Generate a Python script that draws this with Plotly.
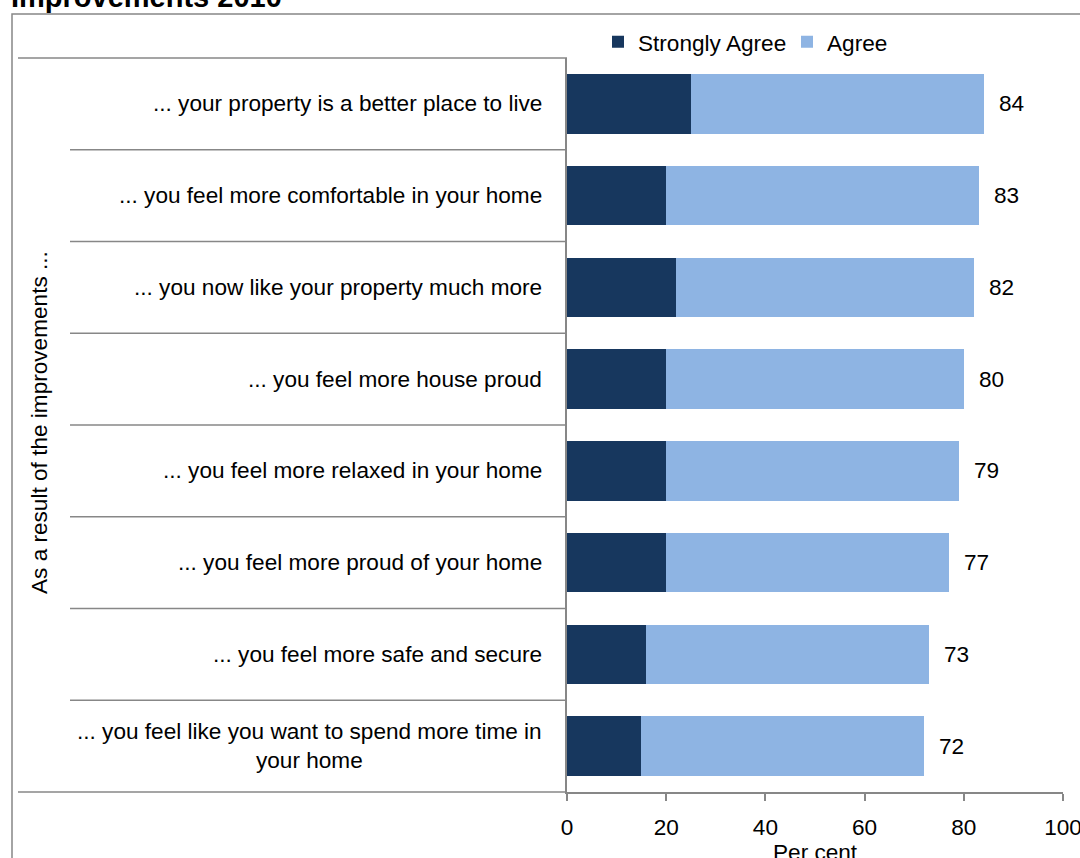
import plotly.graph_objects as go

# Survey statements (top to bottom)
statements = [
    "... your property is a better place to live",
    "... you feel more comfortable in your home",
    "... you now like your property much more",
    "... you feel more house proud",
    "... you feel more relaxed in your home",
    "... you feel more proud of your home",
    "... you feel more safe and secure",
    "... you feel like you want to spend more time in<br>your home",
]
strongly_agree = [25, 20, 22, 20, 20, 20, 16, 15]
total_agree = [84, 83, 82, 80, 79, 77, 73, 72]
agree = [t - s for t, s in zip(total_agree, strongly_agree)]

x_ticks = [0, 20, 40, 60, 80, 100]
x_title = "Per cent"
y_title = "As a result of the improvements ..."
chart_title = "Improvements 2010"

DARK = "#17375E"
LIGHT = "#8EB4E3"
GREY = "#878787"
FONT = "Liberation Sans, Arial, sans-serif"
FS = 22.6

W, H = 1080, 858
L, R, T, B = 567, 17, 58, 66
plot_w = W - L - R
plot_h = H - T - B


def px_x(px):
    return (px - L) / plot_w


def px_y(py):
    return (H - B - py) / plot_h


cats = list(range(len(statements)))

fig = go.Figure()
fig.add_trace(go.Bar(
    y=cats, x=strongly_agree, orientation="h", name="Strongly Agree",
    marker=dict(color=DARK, line=dict(width=0)),
))
fig.add_trace(go.Bar(
    y=cats, x=agree, orientation="h", name="Agree",
    marker=dict(color=LIGHT, line=dict(width=0)),
))

annotations = []
# statement labels, centred lines, right-aligned to the axis
for i, s in enumerate(statements):
    annotations.append(dict(
        x=px_x(544), xref="paper", xanchor="right",
        y=i, yref="y", yanchor="middle",
        text=s, showarrow=False, align="center",
        font=dict(family=FONT, size=FS, color="#000000"),
    ))
# total labels to the right of each bar
for i, t in enumerate(total_agree):
    annotations.append(dict(
        x=t, xref="x", xanchor="left", xshift=13,
        y=i, yref="y", yanchor="middle",
        text=str(t), showarrow=False,
        font=dict(family=FONT, size=FS, color="#000000"),
    ))
annotations.append(dict(
    x=px_x(40), xref="paper", xanchor="center",
    y=px_y(423), yref="paper", yanchor="middle",
    text=y_title, textangle=-90, showarrow=False,
    font=dict(family=FONT, size=FS, color="#000000"),
))
annotations.append(dict(
    x=px_x(815), xref="paper", xanchor="center",
    y=px_y(852), yref="paper", yanchor="middle",
    text=x_title, showarrow=False,
    font=dict(family=FONT, size=FS, color="#000000"),
))
annotations.append(dict(
    x=px_x(9), xref="paper", xanchor="left",
    y=px_y(15), yref="paper", yanchor="bottom",
    text="<b>" + chart_title + "</b>", showarrow=False,
    font=dict(family=FONT, size=29, color="#000000"),
))

shapes = []
# outer frame
shapes.append(dict(type="rect", xref="paper", yref="paper",
                   x0=px_x(12), x1=px_x(1200), y0=px_y(14), y1=px_y(1000),
                   line=dict(color=GREY, width=1.5), fillcolor="rgba(0,0,0,0)"))
# category group lines
for yv in (0, 1):
    shapes.append(dict(type="line", xref="paper", yref="paper",
                       x0=px_x(18), x1=0, y0=yv, y1=yv,
                       line=dict(color=GREY, width=1.5)))
for i in range(len(statements) - 1):
    shapes.append(dict(type="line", xref="paper", yref="y",
                       x0=px_x(70), x1=0, y0=i + 0.5, y1=i + 0.5,
                       line=dict(color=GREY, width=1.5)))

fig.update_layout(
    width=W, height=H,
    margin=dict(l=L, r=R, t=T, b=B, pad=0),
    barmode="stack", bargap=0.35,
    paper_bgcolor="white", plot_bgcolor="white",
    font=dict(family=FONT, size=FS, color="#000000"),
    showlegend=True,
    legend=dict(
        orientation="h", x=px_x(598), xanchor="left",
        y=px_y(42), yanchor="middle",
        entrywidth=144, entrywidthmode="pixels",
        font=dict(family=FONT, size=FS, color="#000000"),
        bgcolor="rgba(0,0,0,0)", traceorder="normal",
    ),
    xaxis=dict(
        range=[0, 100], tickvals=x_ticks, ticks="outside", ticklen=7,
        tickcolor=GREY, tickwidth=1.5, showline=True, linecolor=GREY,
        linewidth=1.5, showgrid=False, zeroline=False,
        tickfont=dict(family=FONT, size=FS, color="#000000"),
        ticklabelstandoff=7, ticklabeloverflow="allow",
        automargin=False,
    ),
    yaxis=dict(
        range=[len(statements) - 0.5, -0.5], showticklabels=False,
        ticks="", showline=True, linecolor=GREY, linewidth=1.5,
        showgrid=False, zeroline=False, automargin=False,
    ),
    annotations=annotations,
    shapes=shapes,
)

fig.write_html("out.html")
